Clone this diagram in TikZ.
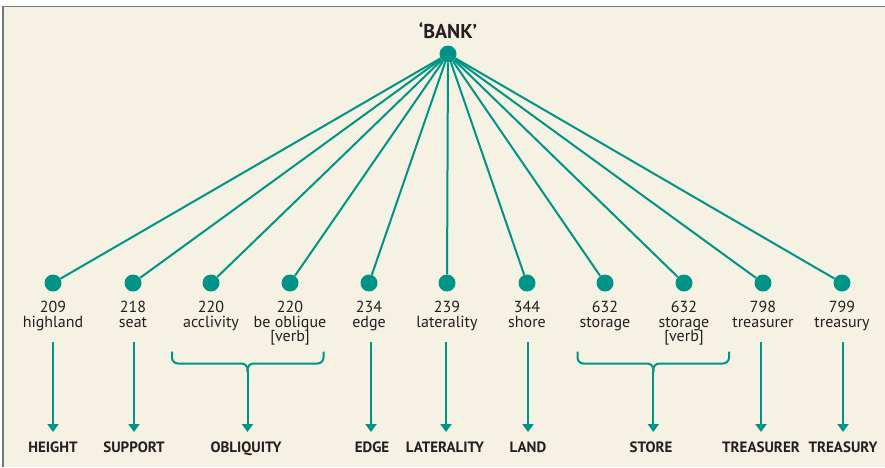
\documentclass[tikz,border=0pt]{standalone}
\usepackage{fontspec}
\setmainfont{PT Sans}
\usetikzlibrary{arrows.meta}
\definecolor{teal1}{RGB}{0,148,136}
\definecolor{cream}{RGB}{245,241,227}
\definecolor{ink}{RGB}{35,31,32}
\definecolor{frame}{RGB}{120,120,120}
\tikzset{
  dot/.style={circle,fill=teal1,inner sep=0pt,minimum size=17pt},
  link/.style={teal1,line width=2pt},
  down/.style={teal1,line width=2pt,-{Triangle[width=11pt,length=8pt]}},
  brace/.style={teal1,line width=2pt,rounded corners=6pt},
  lab/.style={anchor=base,inner sep=0pt,text=ink,font=\fontsize{16}{16}\selectfont},
  cat/.style={anchor=base,inner sep=0pt,text=ink,font=\bfseries\fontsize{15}{15}\selectfont},
}
\begin{document}
\begin{tikzpicture}[x=1pt,y=-1pt]
\useasboundingbox (0,0) rectangle (885,467);
\fill[cream] (3,6.5) rectangle (885,467);
\draw[frame,line width=1.5pt] (3,467) -- (3,6.5) -- (885,6.5);

\node[anchor=base,inner sep=0pt,text=ink,font=\bfseries\fontsize{20}{20}\selectfont] (title) at (448,38) {‘BANK’};
\node[dot] (top) at (448,54) {};

\foreach \i/\x in {1/53,2/133,3/211,4/290,5/369,6/447,7/527,8/605,9/684,10/763,11/842}{
  \node[dot] (b\i) at (\x,283) {};
  \draw[link] (top) -- (b\i);
}

% number and word labels
\node[lab] (n1) at (53,312.5) {209};   \node[lab] (w1) at (53,327) {highland};
\node[lab] (n2) at (133,312.5) {218};  \node[lab] (w2) at (133,327) {seat};
\node[lab] (n3) at (211,312.5) {220};  \node[lab] (w3) at (211,327) {acclivity};
\node[lab] (n4) at (290,312.5) {220};  \node[lab] (w4) at (290,327) {be oblique};
\node[lab] (v4) at (290,341.5) {[verb]};
\node[lab] (n5) at (369,312.5) {234};  \node[lab] (w5) at (369,327) {edge};
\node[lab] (n6) at (447,312.5) {239};  \node[lab] (w6) at (447,327) {laterality};
\node[lab] (n7) at (527,312.5) {344};  \node[lab] (w7) at (527,327) {shore};
\node[lab] (n8) at (605,312.5) {632};  \node[lab] (w8) at (605,327) {storage};
\node[lab] (n9) at (684,312.5) {632};  \node[lab] (w9) at (684,327) {storage};
\node[lab] (v9) at (684,341.5) {[verb]};
\node[lab] (n10) at (763,312.5) {798}; \node[lab] (w10) at (763,327) {treasurer};
\node[lab] (n11) at (842,312.5) {799}; \node[lab] (w11) at (842,327) {treasury};

% category labels
\node[cat] (c1) at (53,452.5) {HEIGHT};
\node[cat] (c2) at (134,452.5) {SUPPORT};
\node[cat] (c3) at (246,452.5) {OBLIQUITY};
\node[cat] (c4) at (372,452.5) {EDGE};
\node[cat] (c5) at (445,452.5) {LATERALITY};
\node[cat] (c6) at (528,452.5) {LAND};
\node[cat] (c7) at (651,452.5) {STORE};
\node[cat] (c8) at (761,452.5) {TREASURER};
\node[cat] (c9) at (843,452.5) {TREASURY};

% arrow start/end coordinates
\foreach \k/\x in {1/53,2/134,4/371,5/446,6/528,8/761,9/843}{
  \coordinate (s\k) at (\x,342);
  \coordinate (e\k) at (\x,432);
  \draw[down] (s\k) -- (e\k);
}

% braces
\coordinate (oL) at (172,351.5);
\coordinate (oR) at (323.5,351.5);
\coordinate (oC) at (247.5,372);
\coordinate (oE) at (247.5,432);
\draw[brace] (oL) -- (172,363.5) -- (247.5,363.5) -- (oC);
\draw[brace] (oR) -- (323.5,363.5) -- (247.5,363.5) -- (oC);
\draw[down] (oC) -- (oE);

\coordinate (sL) at (577.5,351.5);
\coordinate (sR) at (729,351.5);
\coordinate (sC) at (653.3,372);
\coordinate (sE) at (653.3,432);
\draw[brace] (sL) -- (577.5,363.5) -- (653.3,363.5) -- (sC);
\draw[brace] (sR) -- (729,363.5) -- (653.3,363.5) -- (sC);
\draw[down] (sC) -- (sE);
\end{tikzpicture}
\end{document}
